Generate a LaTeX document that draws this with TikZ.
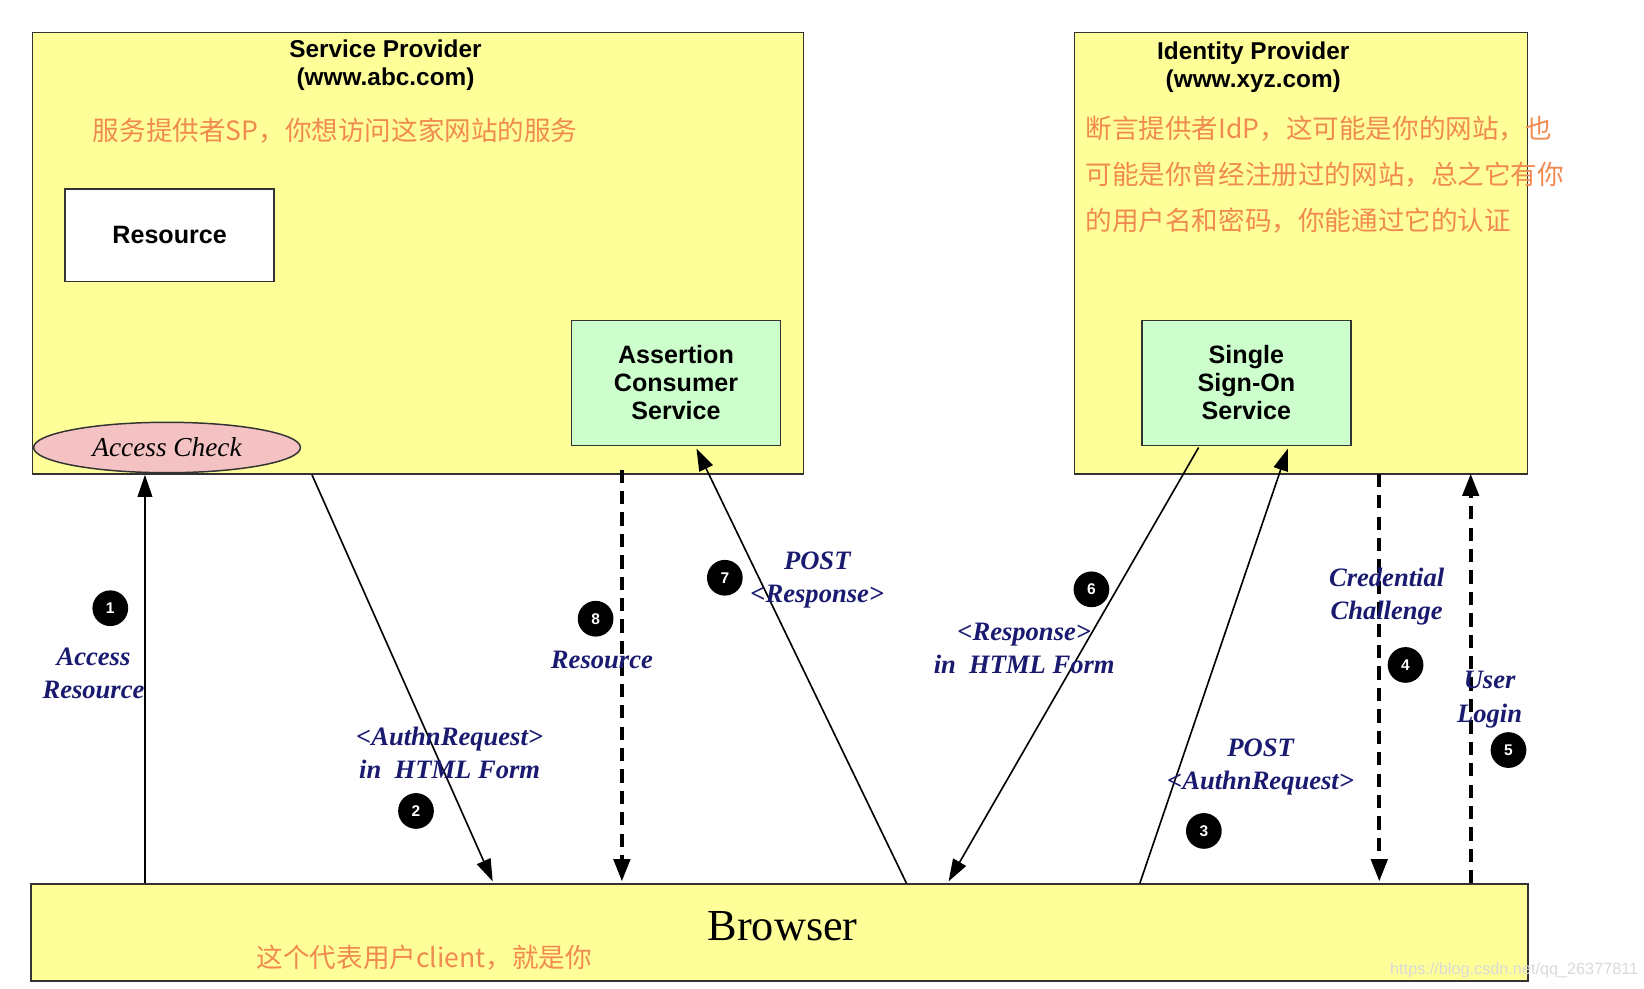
\documentclass[tikz,border=0pt]{standalone}
\usepackage{fontspec}
\setmainfont{Liberation Serif}
\setsansfont{Liberation Sans}
\newfontfamily\cjk{Noto Sans CJK SC}
\usetikzlibrary{arrows.meta,shapes.geometric}
\definecolor{boxyellow}{HTML}{FFFF99}
\definecolor{boxgreen}{HTML}{CCFFCC}
\definecolor{pinkish}{HTML}{F4C2C2}
\definecolor{navy}{HTML}{1A1A70}
\definecolor{orangetxt}{HTML}{F08A50}
\begin{document}
\begin{tikzpicture}[x=0.05cm,y=-0.05cm,
  area/.style={draw=black!80,line width=2pt,fill=boxyellow},
  svc/.style={draw=black!80,line width=2pt,fill=boxgreen,minimum width=199*0.05cm,minimum height=119*0.05cm,align=center,font=\sffamily\bfseries\fontsize{34}{38}\selectfont},
  ttl/.style={align=center,font=\sffamily\bfseries\fontsize{33}{38}\selectfont},
  cn/.style={text=orangetxt,font=\cjk\fontsize{36}{62}\selectfont,align=left},
  lbl/.style={text=navy,align=center,font=\bfseries\itshape\fontsize{36}{45}\selectfont},
  num/.style={circle,fill=black,text=white,inner sep=0pt,minimum size=34*0.05cm,font=\sffamily\bfseries\fontsize{21}{21}\selectfont},
  sol/.style={line width=2.2pt,-{Triangle[length=30pt,width=20pt]}},
  dsh/.style={line width=5pt,dash pattern=on 18pt off 11pt,-{Triangle[length=30pt,width=22pt]}}]
\useasboundingbox (0,0) rectangle (1565,941);
% areas
\draw[area] (31,31) rectangle (765,451);
\draw[area] (1023,31) rectangle (1454,451);
\node[area,minimum width=1425*0.05cm,minimum height=92*0.05cm,anchor=north west] (br) at (29,841) {};
\node[ttl] (spt) at (367,62) {Service Provider\\(www.abc.com)};
\node[ttl] (idpt) at (1193,64) {Identity Provider\\(www.xyz.com)};
\node[cn,anchor=west] (spcn) at (86,124) {服务提供者SP，你想访问这家网站的服务};
\node[cn,anchor=north west] (idpcn) at (1031,108) {断言提供者IdP，这可能是你的网站，也\\可能是你曾经注册过的网站，总之它有你\\的用户名和密码，你能通过它的认证};
\node[draw=black!80,line width=2pt,fill=white,minimum width=199*0.05cm,minimum height=88*0.05cm,font=\sffamily\bfseries\fontsize{34}{38}\selectfont] (res) at (161.5,224) {Resource};
\node[svc] (acs) at (643.5,364.5) {Assertion\\Consumer\\Service};
\node[svc] (sso) at (1186.5,364.5) {Single\\Sign-On\\Service};
\node[draw=black!80,line width=2pt,fill=pinkish,ellipse,minimum width=254*0.05cm,minimum height=48*0.05cm,inner sep=0pt,font=\itshape\fontsize{37}{40}\selectfont] (ac) at (159,426) {Access Check};
\node[font=\fontsize{60}{66}\selectfont] (brt) at (745,882) {Browser};
\node[cn,anchor=west] (brcn) at (242,912) {这个代表用户client，就是你};
\node[text=black!15,font=\sffamily\fontsize{22}{22}\selectfont,anchor=east] (wm) at (1562,924) {https://blog.csdn.net/qq\_26377811};
% connector endpoints
\coordinate (a1s) at (138,841); \coordinate (a1e) at (138,452);
\coordinate (a2s) at (297,452); \coordinate (a2e) at (469,839);
\coordinate (a8s) at (592,447); \coordinate (a8e) at (592,839);
\coordinate (a7s) at (863,841); \coordinate (a7e) at (663,427);
\coordinate (a6s) at (1141,426); \coordinate (a6e) at (903,839);
\coordinate (a3s) at (1085,841); \coordinate (a3e) at (1226,427);
\coordinate (a4s) at (1313,451); \coordinate (a4e) at (1313,839);
\coordinate (a5s) at (1400,841); \coordinate (a5e) at (1400,451);
\draw[sol] (a1s) -- (a1e);
\draw[sol] (a2s) -- (a2e);
\draw[dsh] (a8s) -- (a8e);
\draw[sol] (a7s) -- (a7e);
\draw[sol] (a6s) -- (a6e);
\draw[sol] (a3s) -- (a3e);
\draw[dsh] (a4s) -- (a4e);
\draw[dsh] (a5s) -- (a5e);
% labels
\node[lbl] (l1) at (89,641) {Access\\Resource};
\node[lbl] (l2) at (428,717) {<AuthnRequest>\\in~~HTML Form};
\node[lbl] (l8) at (573,628) {Resource};
\node[lbl] (l7) at (778,552) {POST\\<Response>};
\node[lbl] (l6) at (975,617) {<Response>\\in~~HTML Form};
\node[lbl] (l4) at (1320,568) {Credential\\Challenge};
\node[lbl] (l5) at (1418,666) {User\\Login};
\node[lbl] (l3) at (1200,730) {POST\\<AuthnRequest>};
% numbers
\node[num] (n1) at (105,579) {1};
\node[num] (n2) at (396,772) {2};
\node[num] (n8) at (567,589) {8};
\node[num] (n7) at (690,550) {7};
\node[num] (n6) at (1039,561) {6};
\node[num] (n4) at (1338,633) {4};
\node[num] (n5) at (1436,714) {5};
\node[num] (n3) at (1146,791) {3};
\end{tikzpicture}
\end{document}
